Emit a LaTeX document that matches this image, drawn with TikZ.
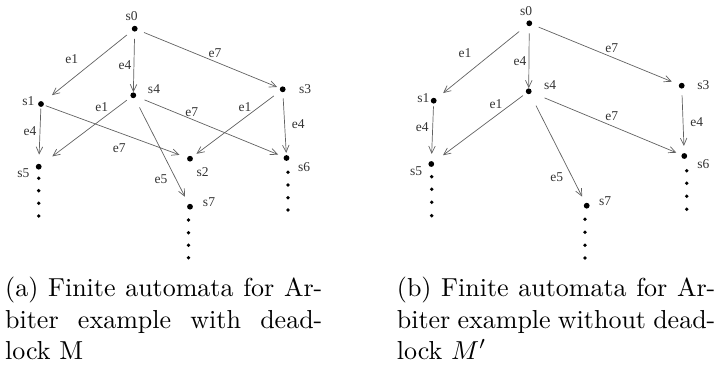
\documentclass[tikz,border=0pt]{standalone}
\usepackage{fontspec}
\usepackage{graphicx}
\newfontfamily\lblfont{Liberation Serif}
\usetikzlibrary{arrows.meta}
\newcommand{\capttext}[2]{\scalebox{2.6}{\parbox[t]{#1}{\fontsize{10}{12}\selectfont #2}}}
\begin{document}
\begin{tikzpicture}[x=1pt,y=-1pt,
  state/.style={circle,fill=black,inner sep=0pt,minimum size=5.8pt},
  more/.style={circle,fill=black,inner sep=0pt,minimum size=3.8pt},
  lbl/.style={font=\lblfont\fontsize{13.5}{15}\selectfont,text=black!80,inner sep=0pt},
  edge/.style={draw=black!62,line width=0.7pt,-{Straight Barb[length=7pt,width=6.5pt]}},
  capt/.style={anchor=base west,inner sep=0pt}]
\path[use as bounding box] (0,0) rectangle (724,371);

% ---------------- left automaton ----------------
\node[state] (a0) at (134.7,28.7) {};
\node[state] (a1) at (41,104) {};
\node[state] (a4) at (133.3,95.3) {};
\node[state] (a3) at (282.7,89.3) {};
\node[state] (a5) at (38.7,166.7) {};
\node[state] (a2) at (190,158.7) {};
\node[state] (a6) at (286.5,158) {};
\node[state] (a7) at (190,206.7) {};

\foreach \y [count=\i] in {178.3,190.7,203.3,216} \node[more] (a5d\i) at (38.7,\y) {};
\foreach \y [count=\i] in {172.3,185,197.7,210} \node[more] (a6d\i) at (288,\y) {};
\foreach \y [count=\i] in {220,232.7,245.3,257.7} \node[more] (a7d\i) at (188.5,\y) {};

\node[lbl] (ta0) at (131.7,15.7) {s0};
\node[lbl] (ta1) at (28.3,101) {s1};
\node[lbl] (ta4) at (154,89) {s4};
\node[lbl] (ta3) at (305,88.7) {s3};
\node[lbl] (ta5) at (23.3,172.7) {s5};
\node[lbl] (ta2) at (202.7,172.3) {s2};
\node[lbl] (ta6) at (304,166.7) {s6};
\node[lbl] (ta7) at (209,201.7) {s7};

\draw[edge,shorten <=7pt,shorten >=11pt] (a0) -- (a1);
\draw[edge,shorten <=7pt,shorten >=0pt] (a0) -- (a4);
\draw[edge,shorten <=7pt,shorten >=3pt] (a0) -- (a3);
\draw[edge,shorten <=1.5pt,shorten >=9pt] (a1) -- (a5);
\draw[edge,shorten <=5pt,shorten >=14pt] (a4) -- (a5);
\draw[edge,shorten <=2pt,shorten >=8pt] (a1) -- (a2);
\draw[edge,shorten <=9pt,shorten >=6pt] (a4) -- (a6);
\draw[edge,shorten <=10.5pt,shorten >=8pt] (a4) -- (a7);
\draw[edge,shorten <=8pt,shorten >=5pt] (a3) -- (a2);
\draw[edge,shorten <=6pt,shorten >=2pt] (a3) -- (a6);

\node[lbl] (ea1) at (71.7,59.3) {e1};
\node[lbl] (ea2) at (125,65) {e4};
\node[lbl] (ea3) at (215,52.7) {e7};
\node[lbl] (ea4) at (101.7,106.7) {e1};
\node[lbl] (ea5) at (191.7,112.3) {e7};
\node[lbl] (ea6) at (245,107.3) {e1};
\node[lbl] (ea7) at (298.3,124) {e4};
\node[lbl] (ea8) at (30,131) {e4};
\node[lbl] (ea9) at (119.3,148) {e7};
\node[lbl] (ea10) at (161,179) {e5};

% ---------------- right automaton ----------------
\node[state] (b0) at (529.3,23.3) {};
\node[state] (b1) at (433.7,100.7) {};
\node[state] (b4) at (528.7,91.3) {};
\node[state] (b3) at (681.7,85.7) {};
\node[state] (b5) at (431.3,164) {};
\node[state] (b6) at (684.3,156) {};
\node[state] (b7) at (586.7,205.7) {};

\foreach \y [count=\i] in {176.7,189.3,202.3,215.7} \node[more] (b5d\i) at (431.7,\y) {};
\foreach \y [count=\i] in {170.7,183.3,196.3,209.3} \node[more] (b6d\i) at (686.7,\y) {};
\foreach \y [count=\i] in {219.3,232.3,245.3,258} \node[more] (b7d\i) at (585,\y) {};

\node[lbl] (tb0) at (526,10.7) {s0};
\node[lbl] (tb1) at (423.3,98) {s1};
\node[lbl] (tb4) at (550,85) {s4};
\node[lbl] (tb3) at (703.3,85) {s3};
\node[lbl] (tb5) at (416,170.7) {s5};
\node[lbl] (tb6) at (703.3,164) {s6};
\node[lbl] (tb7) at (605,201) {s7};

\draw[edge,shorten <=10pt,shorten >=9pt] (b0) -- (b1);
\draw[edge,shorten <=7pt,shorten >=0pt] (b0) -- (b4);
\draw[edge,shorten <=7pt,shorten >=7.5pt] (b0) -- (b3);
\draw[edge,shorten <=2.5pt,shorten >=7pt] (b1) -- (b5);
\draw[edge,shorten <=4pt,shorten >=11.5pt] (b4) -- (b5);
\draw[edge,shorten <=14pt,shorten >=5.5pt] (b4) -- (b6);
\draw[edge,shorten <=13pt,shorten >=7pt] (b4) -- (b7);
\draw[edge,shorten <=6.5pt,shorten >=7pt] (b3) -- (b6);

\node[lbl] (eb1) at (465,53.3) {e1};
\node[lbl] (eb2) at (520,61) {e4};
\node[lbl] (eb3) at (611.7,48.3) {e7};
\node[lbl] (eb4) at (496,104.3) {e1};
\node[lbl] (eb5) at (611.7,115.7) {e7};
\node[lbl] (eb6) at (696.7,121.7) {e4};
\node[lbl] (eb7) at (422.3,126.7) {e4};
\node[lbl] (eb8) at (556.7,176.7) {e5};

% ---------------- captions ----------------
\node[capt] (capa) at (5,297) {\capttext{122pt}{(a) Finite automata for Ar-\linebreak biter example with dead-\linebreak lock M}};
\node[capt] (capb) at (396.7,297) {\capttext{122.5pt}{(b) Finite automata for Ar-\linebreak biter example without dead-\linebreak lock $M'$}};
\end{tikzpicture}
\end{document}
